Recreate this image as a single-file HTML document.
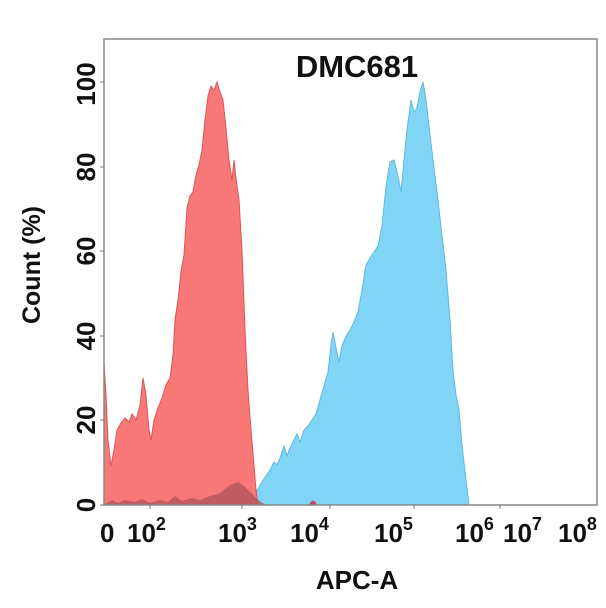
<!DOCTYPE html>
<html><head><style>
html,body{margin:0;padding:0;background:#fff;}
svg{display:block;}
text{font-family:"Liberation Sans",Arial,sans-serif;font-weight:bold;fill:#111;}
</style></head><body>
<svg width="606" height="608" viewBox="0 0 606 608" xmlns="http://www.w3.org/2000/svg">
<rect width="606" height="608" fill="#fff"/>
<path d="M255,505 L256,492 L262,482 L266,476 L270,470 L274,462 L277,465 L280,458 L284,446 L287,456 L290,448 L294,440 L297,434 L300,442 L304,430 L308,426 L312,420 L316,414 L320,400 L324,386 L328,372 L331,345 L333,332 L336,348 L339,362 L342,346 L346,336 L350,330 L354,322 L358,312 L362,290 L366,265 L370,258 L374,252 L378,246 L382,226 L386,186 L390,162 L394,160 L398,176 L401,192 L404,160 L407,130 L411,100 L414,112 L417,108 L420,92 L423,82 L426,100 L430,135 L434,168 L438,200 L442,236 L446,270 L450,320 L453,370 L456,395 L459,410 L462,445 L466,480 L469,505 Z" fill="#80d4f6" stroke="#5fb9dc" stroke-width="1"/>
<path d="M104,505 L104,362 L106,395 L108,440 L111,466 L114,450 L117,430 L121,423 L125,418 L129,422 L132,414 L136,420 L140,405 L143,378 L146,395 L149,430 L151,440 L154,420 L158,408 L162,398 L166,385 L170,378 L173,355 L175,320 L178,300 L181,272 L184,255 L187,208 L190,196 L193,192 L196,175 L199,165 L202,150 L205,120 L208,96 L211,86 L214,90 L217,82 L220,92 L223,100 L226,128 L229,160 L232,180 L234,160 L236,178 L239,200 L242,250 L245,330 L248,390 L251,430 L254,465 L256,490 L258,505 Z" fill="#f87777" stroke="#d85858" stroke-width="1"/>
<path d="M104,505 L112,500 L118,503 L125,500 L135,502 L142,499 L150,503 L160,500 L168,502 L175,496 L182,501 L192,498 L200,500 L210,496 L218,494 L226,488 L232,484 L238,482 L244,486 L250,492 L256,498 L262,503 L268,505 Z" fill="#b4555e" opacity="0.8"/>
<path d="M309,505 Q313,496 317,505 Z" fill="#c04858"/>
<path d="M104,39 L597,39 L597,505 L104,505 Z" fill="none" stroke="#888" stroke-width="1.5"/>
<g stroke="#777" stroke-width="1">
<line x1="100" y1="505" x2="104" y2="505"/><line x1="100" y1="420" x2="104" y2="420"/><line x1="100" y1="336" x2="104" y2="336"/><line x1="100" y1="251" x2="104" y2="251"/><line x1="100" y1="167" x2="104" y2="167"/><line x1="100" y1="82" x2="104" y2="82"/>
<line x1="150" y1="505" x2="150" y2="509"/><line x1="242" y1="505" x2="242" y2="509"/><line x1="330" y1="505" x2="330" y2="509"/><line x1="414" y1="505" x2="414" y2="509"/><line x1="500" y1="505" x2="500" y2="509"/>
</g>
<text x="357" y="77" font-size="31" text-anchor="middle">DMC681</text>
<g font-size="26" text-anchor="middle">
<text transform="translate(95,505) rotate(-90)">0</text>
<text transform="translate(95,420) rotate(-90)">20</text>
<text transform="translate(95,336) rotate(-90)">40</text>
<text transform="translate(95,251) rotate(-90)">60</text>
<text transform="translate(95,167) rotate(-90)">80</text>
<text transform="translate(95,84) rotate(-90)">100</text>
</g>
<text transform="translate(40,265) rotate(-90)" font-size="25" text-anchor="middle">Count  (%)</text>
<g font-size="26">
<text x="100" y="542">0</text>
<text x="127" y="542">10<tspan font-size="18" dy="-12">2</tspan></text>
<text x="218" y="542">10<tspan font-size="18" dy="-12">3</tspan></text>
<text x="290" y="542">10<tspan font-size="18" dy="-12">4</tspan></text>
<text x="374" y="542">10<tspan font-size="18" dy="-12">5</tspan></text>
<text x="455" y="542">10<tspan font-size="18" dy="-12">6</tspan></text>
<text x="503" y="542">10<tspan font-size="18" dy="-12">7</tspan></text>
<text x="558" y="542">10<tspan font-size="18" dy="-12">8</tspan></text>
</g>
<text x="357" y="589" font-size="26" text-anchor="middle">APC-A</text>
</svg>
</body></html>
